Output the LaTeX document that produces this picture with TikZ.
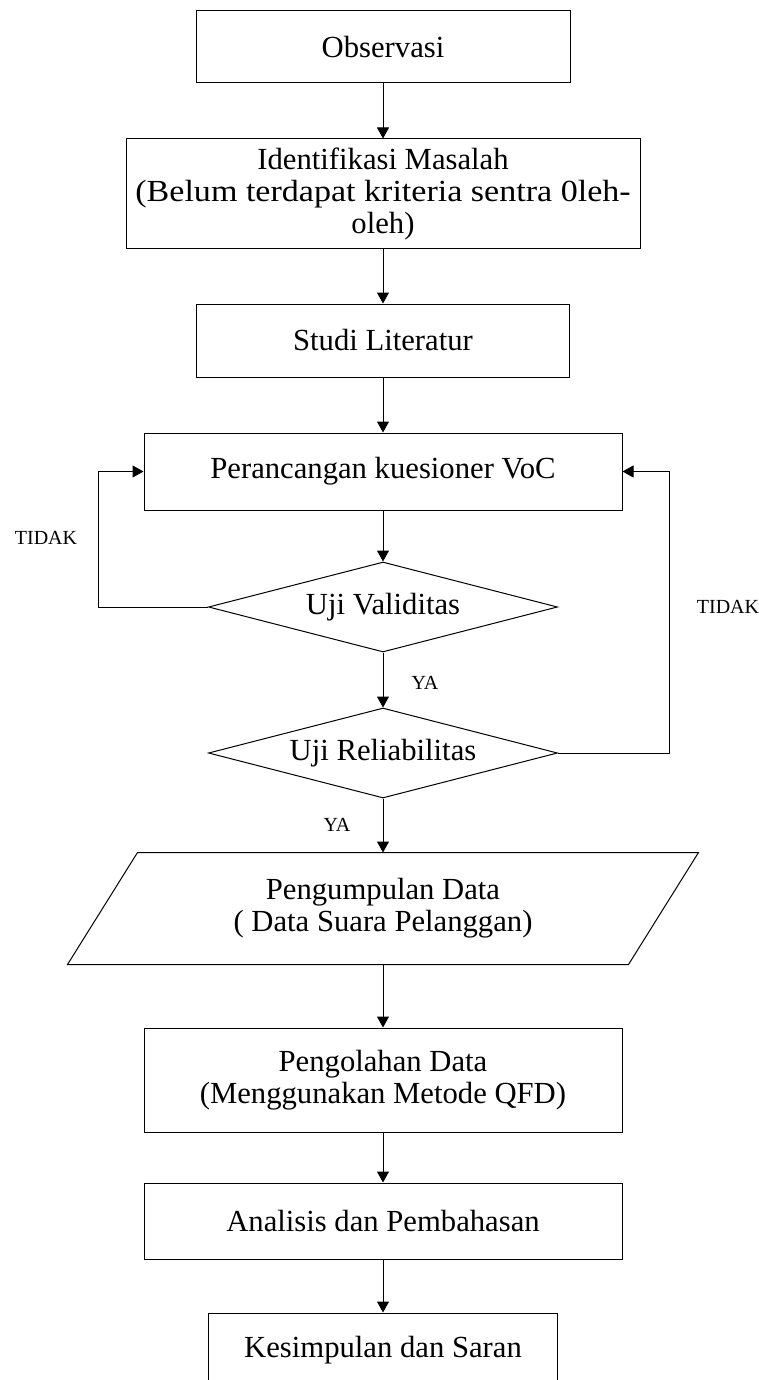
\documentclass[tikz,border=0pt]{standalone}
\usepackage{fontspec}
\usepackage{graphicx}
\setmainfont{Liberation Serif}
\usetikzlibrary{arrows.meta,shapes.geometric}
\begin{document}
\begin{tikzpicture}[x=0.75pt,y=-0.75pt,
  box/.style={draw, line width=0.75pt, rectangle, align=center, inner sep=0pt,
    font=\fontsize{23}{24}\selectfont},
  dec/.style={draw, line width=0.75pt, diamond, shape aspect=3.88, inner sep=0pt,
    minimum width=261.75pt, minimum height=67.5pt, font=\fontsize{23}{24}\selectfont},
  lbl/.style={font=\fontsize{15}{16}\selectfont, inner sep=0pt},
  arr/.style={-{Triangle[length=8.25pt,width=9pt]}, line width=0.75pt}]
\useasboundingbox (0,0) rectangle (759,1380);
\fill[white] (0,0) rectangle (759,1380);
\clip (0,0) rectangle (759,1380);

\node[box, minimum width=280.5pt, minimum height=54pt] (obs) at (383,47) {Observasi};
\node[box, minimum width=385.5pt, minimum height=82.5pt] (idf) at (383,194)
  {Identifikasi Masalah\\\scalebox{1.11}[1]{(Belum terdapat kriteria sentra 0leh-}\\oleh)};
\node[box, minimum width=279.75pt, minimum height=54.75pt] (stu) at (383,340.5) {Studi Literatur};
\node[box, minimum width=358.5pt, minimum height=57.75pt] (per) at (383,471.5) {Perancangan kuesioner VoC};
\node[dec] (val) at (383,607) {Uji Validitas};
\node[dec] (rel) at (383,753) {Uji Reliabilitas};
\node[box, draw=none, minimum width=420pt, minimum height=83.25pt] (pgd) at (383,908.5)
  {Pengumpulan Data\\( Data Suara Pelanggan)};
\draw[line width=0.75pt] ([xshift=26.25pt]pgd.north west) -- ([xshift=26.25pt]pgd.north east)
  -- ([xshift=-26.25pt]pgd.south east) -- ([xshift=-26.25pt]pgd.south west) -- cycle;
\node[box, minimum width=358.5pt, minimum height=78pt] (pgl) at (383,1080)
  {Pengolahan Data\\(Menggunakan Metode QFD)};
\node[box, minimum width=358.5pt, minimum height=57pt] (ana) at (383,1221) {Analisis dan Pembahasan};
\node[box, minimum width=261.75pt, minimum height=55.5pt] (kes) at (383,1350) {Kesimpulan dan Saran};

\draw[arr] (obs.south) -- (idf.north);
\draw[arr] (idf.south) -- (stu.north);
\draw[arr] (stu.south) -- (per.north);
\draw[arr] (per.south) -- (val.north);
\draw[arr] (val.south) -- (rel.north);
\draw[arr] (rel.south) -- (pgd.north);
\draw[arr] (pgd.south) -- (pgl.north);
\draw[arr] (pgl.south) -- (ana.north);
\draw[arr] (ana.south) -- (kes.north);

\coordinate (lx) at (98,0);
\coordinate (rx) at (669,0);
\draw[arr] (val.west) -| (lx |- per.west) -- (per.west);
\draw[arr] (rel.east) -| (rx |- per.east) -- (per.east);

\node[lbl] (t1) at (46,538) {TIDAK};
\node[lbl] (t2) at (728,607) {TIDAK};
\node[lbl] (y1) at (425,683) {YA};
\node[lbl] (y2) at (337,825) {YA};
\end{tikzpicture}
\end{document}
